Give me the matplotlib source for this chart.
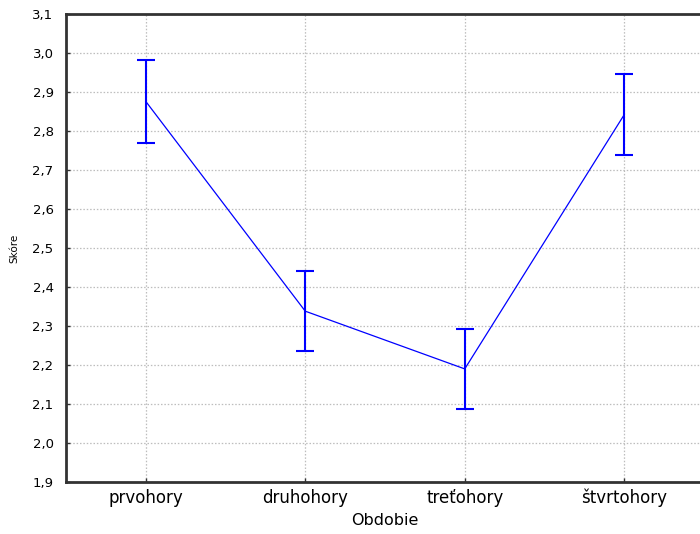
import matplotlib
matplotlib.use("Agg")
import matplotlib.pyplot as plt
import numpy as np

categories = ["prvohory", "druhohory", "treťohory", "štvrtohory"]
means = [2.876, 2.338, 2.190, 2.842]
errors = [0.106, 0.103, 0.102, 0.103]
yticks = [1.9, 2.0, 2.1, 2.2, 2.3, 2.4, 2.5, 2.6, 2.7, 2.8, 2.9, 3.0, 3.1]

plt.rcParams['font.family'] = ['DejaVu Sans']

fig = plt.figure(figsize=(7.0, 5.34), dpi=100)
ax = fig.add_axes([66/700, 52/534, 638/700, 468/534])

x = np.arange(len(categories))
ax.errorbar(x, means, yerr=errors, color='#0000ff', lw=0.9, elinewidth=1.5,
            capsize=6.5, capthick=1.5, zorder=3)

ax.set_xlim(-0.5, 3.5)
ax.set_ylim(1.9, 3.1)
ax.set_yticks(yticks)
ax.set_yticklabels([f"{v:.1f}".replace('.', ',') for v in yticks], fontsize=9.5)
ax.set_xticks(x)
ax.set_xticklabels(categories, fontsize=12)
ax.tick_params(axis='both', direction='in', length=3, width=1, color='#333333')
ax.tick_params(axis='y', pad=9)
ax.tick_params(axis='x', pad=5)
ax.grid(True, color='#bdbdbd', linestyle=(0, (1.2, 1.5)), lw=0.9)
ax.set_axisbelow(True)
for s in ax.spines.values():
    s.set_linewidth(2.0)
    s.set_color('#333333')

ax.set_xlabel("Obdobie", fontsize=11.5, labelpad=4)
ax.set_ylabel("Skóre", fontsize=7.5, labelpad=9)

fig.savefig("out.png", dpi=100)
